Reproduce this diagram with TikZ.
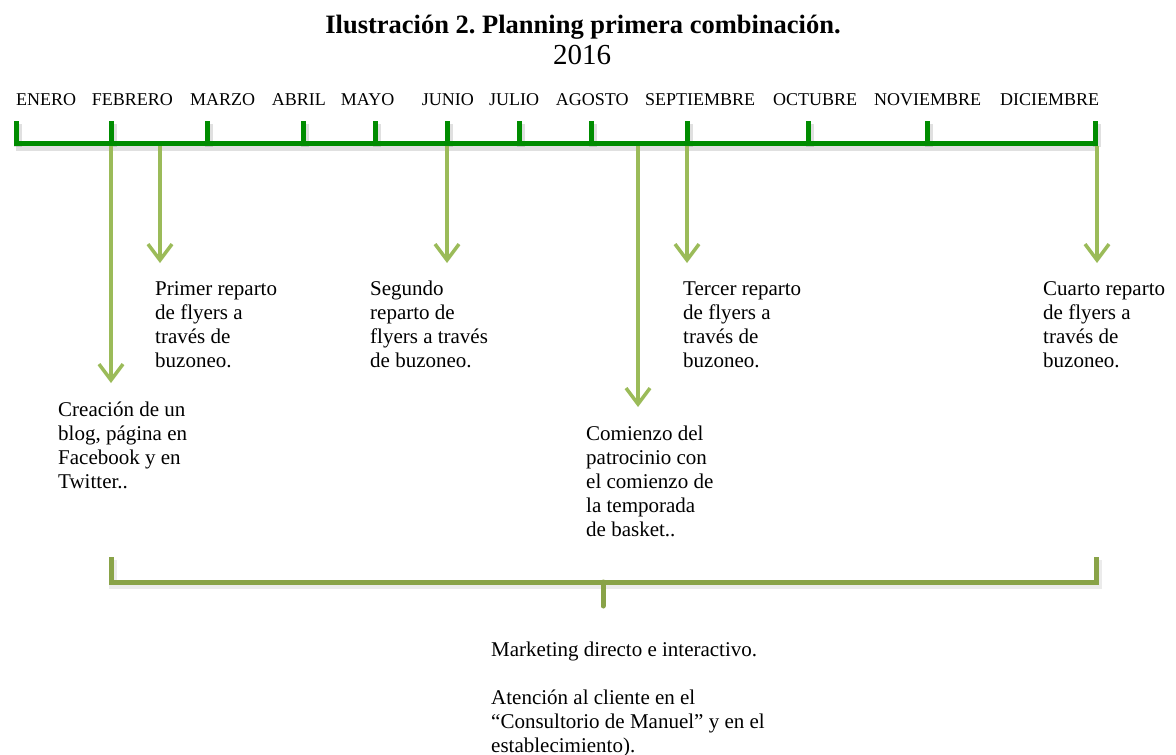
\documentclass[tikz,border=0pt]{standalone}
\usepackage{fontspec}
\setmainfont{Liberation Serif}
\usetikzlibrary{arrows.meta}
\definecolor{barGreen}{RGB}{0,140,0}
\definecolor{arrowGreen}{RGB}{155,187,89}
\definecolor{brkGreen}{RGB}{137,163,72}
\frenchspacing
\tikzset{
  bar/.style={draw=barGreen, line width=5pt, line join=miter},
  barshadow/.style={draw=black, opacity=0.12, line width=8pt},
  evarrow/.style={draw=arrowGreen, line width=3.5pt,
     -{Straight Barb[length=16pt,width=24pt,line width=3.5pt]}},
  brk/.style={draw=brkGreen, line width=5pt},
  month/.style={anchor=base west, inner sep=0pt, font=\fontsize{18}{21}\selectfont},
  lbl/.style={anchor=base west, inner sep=0pt, align=left, font=\fontsize{21}{24}\selectfont},
}
\begin{document}
\begin{tikzpicture}[x=1pt,y=-1pt]
\useasboundingbox (0,0) rectangle (1176,755);
\fill[white] (0,0) rectangle (1176,755);
% title
\node[anchor=base, inner sep=0pt, font=\fontsize{26.5}{30}\selectfont\bfseries] (title) at (583,33) {Ilustración 2. Planning primera combinación.};
\node[anchor=base, inner sep=0pt, font=\fontsize{29}{32}\selectfont] (year) at (582,64) {2016};
% months
\node[month] (m1) at (16,105) {ENERO};
\node[month] (m2) at (91.7,105) {FEBRERO};
\node[month] (m3) at (190,105) {MARZO};
\node[month] (m4) at (271.7,105) {ABRIL};
\node[month] (m5) at (340.7,105) {MAYO};
\node[month] (m6) at (421.7,105) {JUNIO};
\node[month] (m7) at (489,105) {JULIO};
\node[month] (m8) at (555.7,105) {AGOSTO};
\node[month] (m9) at (645,105) {SEPTIEMBRE};
\node[month] (m10) at (773,105) {OCTUBRE};
\node[month] (m11) at (874,105) {NOVIEMBRE};
\node[month] (m12) at (1000,105) {DICIEMBRE};
% timeline bar
\foreach \t in {16,111,207,303,375,447,519,591,687,808,927,1095}{
  \draw[barshadow] (\t+2,124) -- (\t+2,147);
}
\draw[barshadow] (16,147) -- (1097,147);
\draw[bar] (16,121) -- (16,143) -- (1095,143) -- (1095,121);
\foreach \t in {111,207,303,375,447,519,591,687,808,927}{
  \draw[bar] (\t,121) -- (\t,143);
}
% arrow start points on the bar
\coordinate (s1) at (111,146);
\coordinate (s2) at (160,146);
\coordinate (s3) at (447,146);
\coordinate (s4) at (638,146);
\coordinate (s5) at (687,146);
\coordinate (s6) at (1097,146);
\coordinate (e1) at (111,383);
\coordinate (e2) at (160,263);
\coordinate (e3) at (447,263);
\coordinate (e4) at (638,407);
\coordinate (e5) at (687,263);
\coordinate (e6) at (1097,263);
\foreach \i in {1,...,6}{ \draw[evarrow] (s\i) -- (e\i); }
% labels (anchor = baseline of last line)
\node[lbl] (creacion) at (58,488) {Creación de un\\blog, página en\\Facebook y en\\Twitter..};
\node[lbl] (primer) at (155,367) {Primer reparto\\de flyers a\\través de\\buzoneo.};
\node[lbl] (segundo) at (370,367) {Segundo\\reparto de\\flyers a través\\de buzoneo.};
\node[lbl] (tercer) at (683,367) {Tercer reparto\\de flyers a\\través de\\buzoneo.};
\node[lbl] (cuarto) at (1043,367) {Cuarto reparto\\de flyers a\\través de\\buzoneo.};
\node[lbl] (comienzo) at (586,536) {Comienzo del\\patrocinio con\\el comienzo de\\la temporada\\de basket..};
% bracket
\coordinate (bl) at (111,557);
\coordinate (blc) at (111,582);
\coordinate (brc) at (1096,582);
\coordinate (br) at (1096,557);
\coordinate (bm) at (603,582);
\coordinate (bt) at (603,606);
\draw[barshadow, opacity=0.08] (113,560) -- (113,585) -- (1098,585) -- (1098,560);
\draw[brk] (bl) -- (blc) -- (brc) -- (br);
\draw[brk, line cap=round] (bm) -- (bt);
\node[lbl] (marketing) at (491,656) {Marketing directo e interactivo.};
\node[lbl] (atencion) at (491,752) {Atención al cliente en el\\“Consultorio de Manuel” y en el\\establecimiento).};
\end{tikzpicture}
\end{document}
